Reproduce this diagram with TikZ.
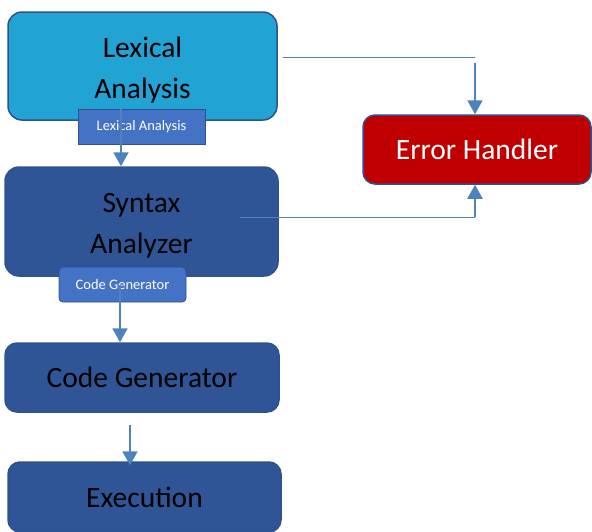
\documentclass[tikz,border=0pt]{standalone}
\usepackage{fontspec}
\setmainfont{Carlito}
\usetikzlibrary{arrows.meta,positioning}
\definecolor{lexfill}{HTML}{21A3D4}
\definecolor{stagefill}{HTML}{2F5597}
\definecolor{stageedge}{HTML}{2E5190}
\definecolor{tagfill}{HTML}{4472C4}
\definecolor{errfill}{HTML}{C00000}
\definecolor{linkblue}{HTML}{4F81BD}

\begin{document}
\begin{tikzpicture}[x=1pt, y=-1pt,
  stage/.style={draw=stageedge, fill=stagefill, line width=1.5pt, rounded corners=14pt,
    align=center, inner sep=0pt, font=\fontsize{29.5}{41}\selectfont},
  tag/.style={draw=stageedge, fill=tagfill, line width=0.8pt, inner sep=0pt,
    text=white, font=\fontsize{14.5}{17}\selectfont,
    minimum width=127pt, minimum height=35pt},
  flow/.style={draw=linkblue, line width=2pt, -{Triangle[length=14pt,width=15pt]}},
  link/.style={draw=linkblue, line width=1pt}]
  \useasboundingbox (0,0) rectangle (592,531);

  % pipeline stages
  \node[stage, fill=lexfill, minimum width=269pt, minimum height=108pt]
    (lex) at (142.5,66) {\rule{0pt}{28pt}Lexical\\Analysis};
  \node[tag] (lextag) at (141.5,127) {Lexical Analysis};
  \node[stage, minimum width=273pt, minimum height=109pt]
    (syn) at (141.5,221.5) {\rule{0pt}{28pt}Syntax\\Analyzer};
  \node[tag, rounded corners=4pt] (cgtag) at (122.5,284.5) {Code Generator};
  \node[stage, rounded corners=12pt, minimum width=274pt, minimum height=69pt]
    (cg) at (142,377.5) {Code Generator};
  \node[stage, rounded corners=12pt, minimum width=273pt, minimum height=70pt]
    (exe) at (144.5,497) {Execution};

  % error handler on the right
  \node[stage, fill=errfill, text=white, rounded corners=12pt,
    minimum width=228pt, minimum height=69pt]
    (err) at (477,149.5) {Error Handler};

  % downward flow
  \coordinate (a1) at (121,109);
  \draw[flow] (a1) -- (a1 |- syn.north);
  \coordinate (a2) at (120,285);
  \draw[flow] (a2) -- (a2 |- cg.north);
  \coordinate (a3) at (130,425);
  \draw[flow, shorten >=-4pt] (a3) -- (a3 |- exe.north);

  % links to the error handler
  \coordinate (e1) at (475,57);
  \draw[link] ([xshift=5pt]lex.east |- e1) -- (e1);
  \draw[flow] ([yshift=-6pt]e1) -- (e1 |- err.north);
  \coordinate (s1) at (240,217);
  \draw[link] (s1) -- (s1 -| e1);
  \draw[flow] (s1 -| e1) -- (e1 |- err.south);
\end{tikzpicture}
\end{document}
